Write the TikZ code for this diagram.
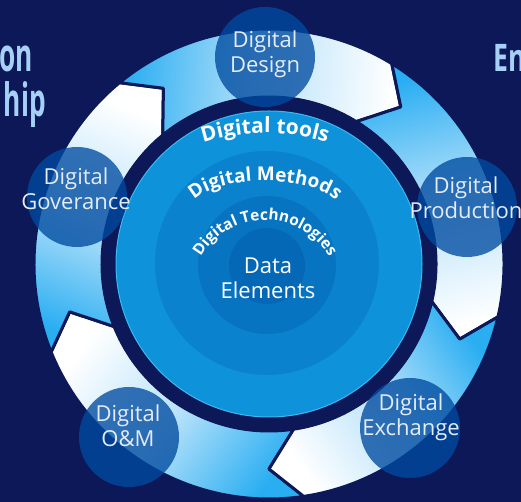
\documentclass[tikz,border=0pt]{standalone}
\usepackage{fontspec}
\setmainfont{Open Sans}
\usetikzlibrary{decorations.text}

\definecolor{bgnavy}{HTML}{0D1858}
\definecolor{ringblue}{HTML}{2AAEF2}
\definecolor{ringmid}{HTML}{B8E2FA}
\definecolor{rimblue}{HTML}{3CB8F2}
\definecolor{layerA}{HTML}{0E92DA}
\definecolor{layerB}{HTML}{0A82CD}
\definecolor{layerC}{HTML}{0774C1}
\definecolor{layerD}{HTML}{0468B6}
\definecolor{bubblefill}{HTML}{004BA0}
\definecolor{labeltext}{HTML}{E4ECF7}
\definecolor{titleblue}{HTML}{A6D0F5}

\begin{document}
\begin{tikzpicture}[
    x=1pt,
    y=1pt,
    bubble/.style={circle, fill=bubblefill, fill opacity=0.78, minimum size=100pt, inner sep=0pt},
    bubbletext/.style={text=labeltext, font=\fontsize{22}{25}\selectfont, align=center, inner sep=0pt},
    title/.style={text=titleblue, font=\fontsize{46}{46}\selectfont\bfseries, inner sep=0pt},
    arrowseg/.style={draw=bgnavy, line width=3pt, line join=round,
      bottom color=ringblue, top color=white, middle color=ringmid},
    arctext/.style={decorate, decoration={text along path, text align=center, text color=white}}]

    % Background
    \useasboundingbox (0,0) rectangle (521,502);
    \clip (0,0) rectangle (521,502);
    \fill[bgnavy] (0,0) rectangle (521,502);

    % Title fragments
    \node[title, anchor=base east] (on) at (33,430) {\scalebox{0.57}[1]{on}};
    \node[title, anchor=base east] (hip) at (46,385) {\scalebox{0.57}[1]{hip}};
    \node[title, anchor=base west, font=\fontsize{38}{38}\selectfont\bfseries] (En) at (493,430) {\scalebox{0.7}[1]{En}};

    % Arrow ring
    \begin{scope}[shift={(269,238)}]
      \foreach \a/\t in {270/193.5, 193.5/121, 121/50, 50/-21.5, -21.5/-90} {
        \pgfmathsetmacro\sh{(\a+\t)/2-180}
        \path[arrowseg, shading angle=\sh]
          (\a+8.5:235) arc[start angle=\a+8.5, end angle=\t+8.5, radius=235]
          -- (\t:205) -- (\t+8.5:167)
          arc[start angle=\t+8.5, end angle=\a+8.5, radius=167]
          -- (\a:205) -- cycle;
      }
    \end{scope}

    % Core layers
    \fill[bgnavy] (269,238) circle[radius=168];
    \filldraw[fill=layerA, draw=rimblue, line width=1pt] (269,238) circle[radius=153];
    \fill[layerB] (267,239) circle[radius=112];
    \fill[layerC] (267,237) circle[radius=69];
    \fill[layerD] (267,236) circle[radius=38];

    % Layer labels
    \path[arctext, decoration={text={|\fontsize{21}{21}\selectfont\bfseries|Digital tools}}]
      (265,165) ++(130:204) arc[start angle=130, end angle=50, radius=204];
    \path[arctext, decoration={text={|\fontsize{19}{19}\selectfont\bfseries|Digital Methods}}]
      (191,293) arc[start angle=180, end angle=0, x radius=74, y radius=28];
    \path[arctext, decoration={text={|\fontsize{15.5}{15.5}\selectfont\bfseries|Digital Technologies}}]
      (265,208) ++(170:74) arc[start angle=170, end angle=10, radius=74];
    \node[bubbletext, text=white] (Data) at (268,224) {Data\\Elements};

    % Bubbles
    \foreach \nm/\x/\y/\tx/\ty/\txt in {
        Design/265/445/265/448/{Digital\\Design},
        Production/467/295/466/304/{Digital\\Production},
        Exchange/410/74/411/85/{Digital\\Exchange},
        OM/129/65/128/76/{Digital\\O\&M},
        Governance/77/305/76/313/{Digital\\Goverance}} {
      \node[bubble] (\nm) at (\x,\y) {};
      \node[bubbletext] (\nm-text) at (\tx,\ty) {\txt};
    }
\end{tikzpicture}
\end{document}
